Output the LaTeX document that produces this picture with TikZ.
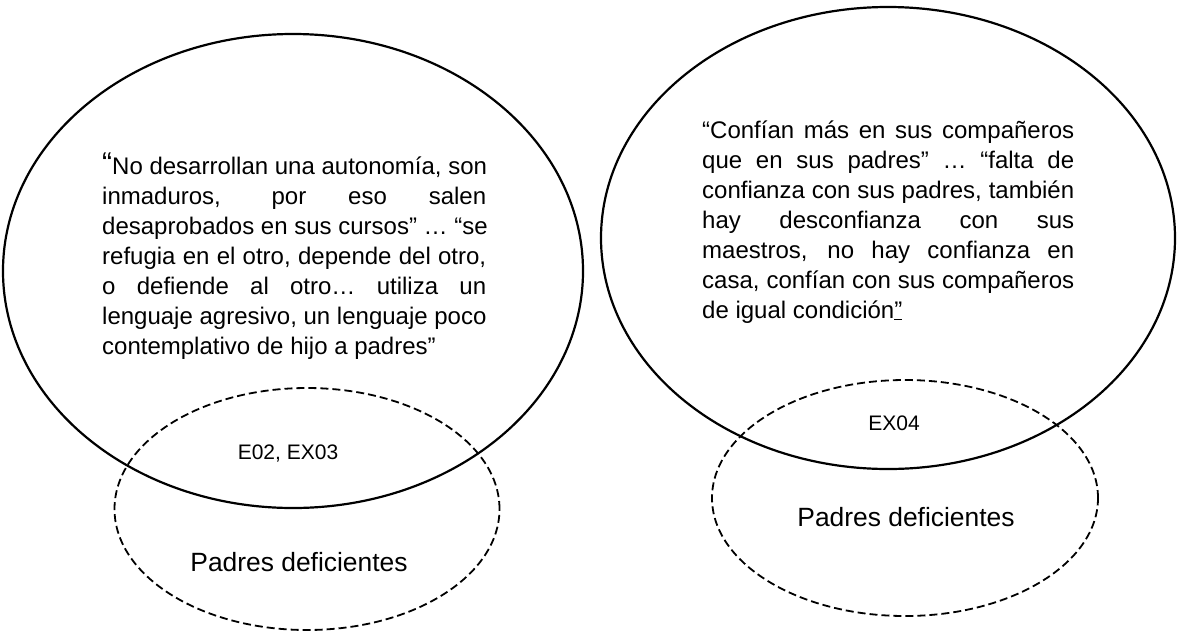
\documentclass[tikz,border=0pt]{standalone}
\usepackage{fontspec}
\setmainfont{Liberation Sans}
\usetikzlibrary{shapes.geometric}
\newlength{\qw}
\newcommand{\jline}[1]{\hbox to \qw{\spaceskip=0.278em plus 1fil\xspaceskip=\spaceskip #1}}
\newcommand{\lline}[1]{\hbox to \qw{#1\hfil}}
\newcommand{\qblock}[2]{\setlength{\qw}{#1}\parbox[t]{#1}{\baselineskip=30pt #2}}
\tikzset{
  bigell/.style={draw, ellipse, line width=2.2pt, inner sep=0pt},
  dashell/.style={draw, ellipse, line width=1.8pt, dash pattern=on 8pt off 4pt, inner sep=0pt},
  quote/.style={inner sep=0pt, anchor=base west, font=\fontsize{24}{30}\selectfont},
  code/.style={inner sep=0pt, anchor=base, font=\fontsize{21}{24}\selectfont},
  cat/.style={inner sep=0pt, anchor=base, font=\fontsize{26.4}{30}\selectfont}
}
\begin{document}
\begin{tikzpicture}[x=1pt,y=-1pt]
\useasboundingbox (0,0) rectangle (1177,635);
% ellipses
\node[bigell, minimum width=580pt, minimum height=474pt] (e1) at (293,271) {};
\node[dashell, minimum width=385pt, minimum height=242pt] (d1) at (307,509) {};
\node[bigell, minimum width=574pt, minimum height=462pt] (e2) at (888,238) {};
\node[dashell, minimum width=386pt, minimum height=236pt] (d2) at (905,498) {};
% quotes
\node[quote] (t1) at (102,174) {\qblock{384pt}{%
\jline{{\fontsize{30}{30}\selectfont\raisebox{1pt}{“}}No desarrollan una autonomía, son}
\jline{inmaduros, por eso salen}
\jline{desaprobados en sus cursos” … “se}
\jline{refugia en el otro, depende del otro,}
\jline{o defiende al otro… utiliza un}
\jline{lenguaje agresivo, un lenguaje poco}
\lline{contemplativo de hijo a padres”}}};
\node[quote] (t2) at (702,138) {\qblock{372pt}{%
\jline{“Confían más en sus compañeros}
\jline{que en sus padres” … “falta de}
\jline{confianza con sus padres, también}
\jline{hay desconfianza con sus}
\jline{maestros, no hay confianza en}
\jline{casa, confían con sus compañeros}
\lline{de igual condición\underline{”}}}};
% codes
\node[code] (c1) at (288,459) {E02, EX03};
\node[code] (c2) at (894,430) {EX04};
% categories
\node[cat] (p1) at (299,571) {Padres deficientes};
\node[cat] (p2) at (906,526) {Padres deficientes};
\end{tikzpicture}
\end{document}
